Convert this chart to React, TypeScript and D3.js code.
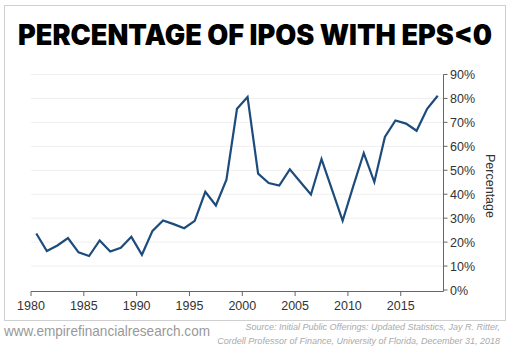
import React from 'react';
import * as d3 from 'd3';

// Share of IPOs with negative EPS, by year (percent)
const years = [
  1980, 1981, 1982, 1983, 1984, 1985, 1986, 1987, 1988, 1989,
  1990, 1991, 1992, 1993, 1994, 1995, 1996, 1997, 1998, 1999,
  2000, 2001, 2002, 2003, 2004, 2005, 2006, 2007, 2008, 2009,
  2010, 2011, 2012, 2013, 2014, 2015, 2016, 2017, 2018,
];
const pctNegative = [
  23.6, 16.3, 18.6, 21.7, 15.7, 14.2, 20.7, 16.1, 17.6, 22.2,
  14.7, 24.7, 29.0, 27.5, 25.8, 28.9, 41.0, 35.3, 46.1, 75.7,
  80.6, 48.6, 44.7, 43.6, 50.4, 45.1, 39.9, 54.7, 41.8, 28.9,
  43.3, 57.2, 45.1, 63.9, 70.8, 69.5, 66.5, 75.7, 81.1,
];
const xTicks = [1980, 1985, 1990, 1995, 2000, 2005, 2010, 2015];
const yTicks = [0, 10, 20, 30, 40, 50, 60, 70, 80, 90];

const title = 'PERCENTAGE OF IPOS WITH EPS<0';
const yLabel = 'Percentage';
const siteText = 'www.empirefinancialresearch.com';
const sourceLines = [
  'Source: Initial Public Offerings: Updated Statistics, Jay R. Ritter,',
  'Cordell Professor of Finance, University of Florida, December 31, 2018',
];

const W = 510;
const H = 350;
const axisFont = '"Liberation Sans", Arial, sans-serif';

export default function App() {
  const x = d3.scaleLinear().domain([1980, 2019]).range([31, 443]);
  const y = d3.scaleLinear().domain([0, 90]).range([290, 74.5]);

  const pts = years.map((yr, i) => ({ yr, v: pctNegative[i] }));
  const line = d3.line<{ yr: number; v: number }>()
    .x(d => x(d.yr + 0.5))
    .y(d => y(d.v));

  const axisColor = '#666';
  const xAxisY = 291.5;
  const yAxisX = 443.5;

  return (
    <div style={{ position: 'fixed', left: 0, top: 0 }}>
      <svg width={W} height={H} style={{ display: 'block', background: '#fff' }}>
        {/* frame */}
        <rect x={4.5} y={5.5} width={501} height={315} fill="#fff" stroke="#cfcfcf" strokeWidth={1} />

        {/* title */}
        <text
          x={255}
          y={45}
          textAnchor="middle"
          fontFamily="Inter, Roboto, sans-serif"
          fontWeight={900}
          fontSize={28}
          textLength={474}
          lengthAdjust="spacingAndGlyphs"
          fill="#000"
        >
          {title}
        </text>

        {/* gridlines */}
        {yTicks.filter(t => t > 0).map(t => (
          <line key={t} x1={31} x2={yAxisX} y1={y(t)} y2={y(t)} stroke="#efefef" strokeWidth={1} />
        ))}

        {/* x axis */}
        <line x1={x(1980)} x2={yAxisX} y1={xAxisY} y2={xAxisY} stroke={axisColor} strokeWidth={1} />
        {xTicks.map(t => (
          <g key={t}>
            <line x1={x(t)} x2={x(t)} y1={xAxisY} y2={xAxisY + 4.5} stroke={axisColor} strokeWidth={1} />
            <text x={x(t)} y={309.5} textAnchor="middle" fontFamily={axisFont} fontSize={12.5} fill="#333">
              {t}
            </text>
          </g>
        ))}

        {/* y axis */}
        <line x1={yAxisX} x2={yAxisX} y1={y(90)} y2={xAxisY} stroke={axisColor} strokeWidth={1} />
        {yTicks.map(t => (
          <g key={t}>
            <line x1={yAxisX} x2={yAxisX + 4} y1={y(t)} y2={y(t)} stroke={axisColor} strokeWidth={1} />
            <text x={450} y={y(t) + 4.5} fontFamily={axisFont} fontSize={12.5} fill="#333">
              {t}%
            </text>
          </g>
        ))}
        <text
          transform={`translate(486,186) rotate(90)`}
          textAnchor="middle"
          fontFamily={axisFont}
          fontSize={12.5}
          fill="#333"
        >
          {yLabel}
        </text>

        {/* data line */}
        <path d={line(pts) || ''} fill="none" stroke="#1d4b7c" strokeWidth={2.2} strokeLinejoin="miter" />

        {/* footer */}
        <text x={4} y={336} fontFamily={axisFont} fontSize={14.5} fill="#999" textLength={206} lengthAdjust="spacingAndGlyphs">
          {siteText}
        </text>
        {sourceLines.map((s, i) => (
          <text
            key={i}
            x={500}
            y={330 + i * 13.5}
            textAnchor="end"
            fontFamily={axisFont}
            fontStyle="italic"
            fontSize={9}
            fill="#aaa"
          >
            {s}
          </text>
        ))}
      </svg>
    </div>
  );
}
